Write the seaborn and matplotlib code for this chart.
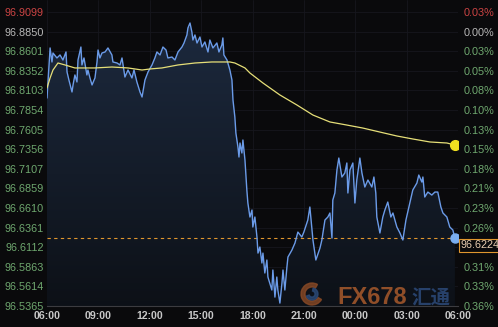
import numpy as np
import pandas as pd
import matplotlib
matplotlib.use("Agg")
import matplotlib.pyplot as plt
import matplotlib.transforms as mtrans
from matplotlib.patches import Wedge
import seaborn as sns

# ---- data (hours since 06:00) ----
hours = [0.00, 0.18, 0.29, 0.35, 0.58, 0.76, 0.93, 1.11, 1.17, 1.28, 1.46, 1.52, 1.63, 1.75, 1.81,
         1.98, 2.04, 2.16, 2.33, 2.39, 2.51, 2.63, 2.80, 2.92, 2.98, 3.09, 3.21, 3.39, 3.56, 3.79,
         3.85, 4.09, 4.26, 4.38, 4.55, 4.73, 4.96, 5.08, 5.25, 5.43, 5.55, 5.72, 5.90, 6.13, 6.30,
         6.42, 6.60, 6.77, 6.95, 7.06, 7.30, 7.47, 7.65, 7.88, 8.00, 8.17, 8.23, 8.35, 8.46, 8.52,
         8.64, 8.76, 8.93, 9.05, 9.22, 9.40, 9.51, 9.69, 9.92, 10.04, 10.21, 10.27, 10.33, 10.51,
         10.68, 10.80, 10.86, 10.97, 11.03, 11.15, 11.21, 11.27, 11.38, 11.44, 11.56, 11.67, 11.73,
         11.85, 11.97, 12.02, 12.14, 12.26, 12.32, 12.43, 12.55, 12.61, 12.72, 12.84, 12.90, 13.13,
         13.19, 13.31, 13.42, 13.48, 13.60, 13.72, 13.78, 13.89, 14.01, 14.07, 14.30, 14.48, 14.65,
         14.88, 15.00, 15.23, 15.35, 15.53, 15.70, 15.94, 16.05, 16.23, 16.40, 16.52, 16.64, 16.69,
         16.81, 16.93, 17.04, 17.22, 17.39, 17.51, 17.57, 17.69, 17.86, 17.98, 18.09, 18.27, 18.39,
         18.56, 18.74, 18.97, 19.09, 19.20, 19.26, 19.44, 19.61, 19.73, 19.90, 20.08, 20.20, 20.43,
         20.61, 20.78, 20.96, 21.19, 21.36, 21.60, 21.71, 21.89, 21.95, 22.06, 22.24, 22.47, 22.65,
         22.82, 23.00, 23.12, 23.35, 23.52, 23.70, 23.82]
price = [96.8006, 96.8642, 96.8464, 96.8578, 96.8515, 96.8553, 96.8489, 96.8591, 96.8337, 96.8235,
         96.8083, 96.8172, 96.8299, 96.8210, 96.8489, 96.8654, 96.8426, 96.8515, 96.8299, 96.8362,
         96.8261, 96.8172, 96.8261, 96.8464, 96.8616, 96.8515, 96.8578, 96.8591, 96.8642, 96.8553,
         96.8464, 96.8451, 96.8426, 96.8515, 96.8273, 96.8362, 96.8261, 96.8362, 96.8210, 96.8083,
         96.8019, 96.8235, 96.8337, 96.8426, 96.8515, 96.8591, 96.8553, 96.8654, 96.8616, 96.8515,
         96.8527, 96.8489, 96.8591, 96.8654, 96.8705, 96.8807, 96.8896, 96.8959, 96.8845, 96.8743,
         96.8807, 96.8705, 96.8781, 96.8654, 96.8718, 96.8591, 96.8743, 96.8642, 96.8705, 96.8591,
         96.8680, 96.8769, 96.8553, 96.8489, 96.8362, 96.8235, 96.7981, 96.7765, 96.7562, 96.7384,
         96.7257, 96.7435, 96.7308, 96.7473, 96.7219, 96.6838, 96.6673, 96.6495, 96.6584, 96.6368,
         96.6495, 96.6241, 96.6037, 96.6114, 96.5911, 96.6037, 96.5784, 96.5949, 96.5733, 96.5568,
         96.5822, 96.5478, 96.5733, 96.5568, 96.5402, 96.5657, 96.5822, 96.5568, 96.5860, 96.5987,
         96.6075, 96.6165, 96.6304, 96.6241, 96.6304, 96.6457, 96.6622, 96.6203, 96.5949, 96.6101,
         96.6203, 96.6457, 96.6495, 96.6546, 96.6228, 96.6711, 96.6800, 96.7092, 96.7244, 96.7003,
         96.7054, 96.7181, 96.6800, 96.7092, 96.7181, 96.6673, 96.6965, 96.7244, 96.7054, 96.6876,
         96.6965, 96.6876, 96.7003, 96.6800, 96.6495, 96.6292, 96.6495, 96.6584, 96.6685, 96.6495,
         96.6546, 96.6368, 96.6292, 96.6203, 96.6457, 96.6673, 96.6838, 96.6927, 96.7028, 96.6939,
         96.7003, 96.6749, 96.6812, 96.6774, 96.6812, 96.6812, 96.6622, 96.6546, 96.6495, 96.6368,
         96.6330, 96.6224]

ma_hours = [0.00, 0.18, 0.35, 0.64, 1.05, 1.63, 2.80, 3.79, 4.73, 5.55, 6.01, 6.71, 7.65, 8.64,
            9.63, 10.39, 10.68, 10.97, 11.56, 11.85, 12.61, 13.60, 14.59, 15.53, 16.52, 17.51,
            18.44, 19.44, 20.43, 21.36, 22.36, 23.35, 23.82]
ma_price = [96.8134, 96.8261, 96.8362, 96.8451, 96.8426, 96.8388, 96.8388, 96.8400, 96.8388,
            96.8362, 96.8375, 96.8388, 96.8426, 96.8451, 96.8464, 96.8464, 96.8464, 96.8451,
            96.8388, 96.8324, 96.8197, 96.8045, 96.7918, 96.7790, 96.7702, 96.7663, 96.7625,
            96.7574, 96.7524, 96.7486, 96.7448, 96.7435, 96.7409]

last_price = 96.6224
left_ticks = [96.9099, 96.8850, 96.8601, 96.8352, 96.8103, 96.7854, 96.7605, 96.7356,
              96.7107, 96.6859, 96.6610, 96.6361, 96.6112, 96.5863, 96.5614, 96.5365]
right_labels = ["0.03%", "0.00%", "0.03%", "0.05%", "0.08%", "0.10%", "0.13%", "0.15%",
                "0.18%", "0.21%", "0.23%", "0.26%", "", "0.31%", "0.33%", "0.36%"]
xtick_hours = [0, 3, 6, 9, 12, 15, 18, 21, 24]
xtick_labels = ["06:00", "09:00", "12:00", "15:00", "18:00", "21:00", "00:00", "03:00", "06:00"]

# ---- style ----
sns.set_theme(style="dark")
plt.rcParams["font.family"] = ["Liberation Sans", "DejaVu Sans"]
BG = "#0a0a0c"
RED, GREY, GREEN = "#cc4444", "#b8b8b8", "#6fa86f"

fig = plt.figure(figsize=(4.98, 3.27), dpi=100, facecolor=BG)
ax = fig.add_axes([47 / 498, 21 / 327, 411 / 498, 306 / 327])
ax.set_facecolor(BG)
ymin, ymax = 96.5365, 96.9251
ax.set_xlim(0, 24)
ax.set_ylim(ymin, ymax)

df = pd.DataFrame({"t": hours, "p": price})
ma = pd.DataFrame({"t": ma_hours, "p": ma_price})

# gradient area under the price line
poly = ax.fill_between(df["t"], df["p"], ymin, color="none", lw=0)
g = np.linspace(0, 1, 256)[:, None, None]
top = np.array([0.11, 0.16, 0.24])
bot = np.array([0.05, 0.065, 0.09])
img = top * (1 - g) + bot * g
im = ax.imshow(img, extent=[0, 24, ymin, 96.89], aspect="auto", origin="upper", zorder=1)
im.set_clip_path(poly.get_paths()[0], transform=ax.transData)

ax.grid(True, color="#16171d", lw=0.6)
ax.set_axisbelow(True)

sns.lineplot(data=df, x="t", y="p", ax=ax, color="#6b9be8", lw=1.0, estimator=None,
             sort=False, zorder=3)
sns.lineplot(data=ma, x="t", y="p", ax=ax, color="#e6df78", lw=0.9, estimator=None,
             sort=False, zorder=4)
ax.axhline(last_price, color="#e0962e", ls=(0, (3, 3)), lw=0.8, zorder=2)
ax.plot([ma_hours[-1]], [ma_price[-1]], "o", color="#f0e020", ms=7, zorder=5)
ax.plot([hours[-1]], [price[-1]], "o", color="#7aaef0", ms=6.5, zorder=5)

ax.set_xlabel("")
ax.set_ylabel("")
ax.set_xticks(xtick_hours)
ax.set_xticklabels(xtick_labels, color="#c8c8c8", fontsize=7.6, fontweight="bold")
ax.set_yticks(left_ticks)
ax.set_yticklabels([f"{v:.4f}" for v in left_ticks], fontsize=7.8)
for i, lab in enumerate(ax.get_yticklabels()):
    lab.set_color(RED if i == 0 else GREY if i == 1 else GREEN)
ax.tick_params(axis="both", length=0)
ax.tick_params(axis="y", pad=2.5)
ax.tick_params(axis="x", pad=3.5)
for s in ["top", "left", "right"]:
    ax.spines[s].set_visible(False)
ax.spines["bottom"].set_color("#3c3c40")
ax.spines["bottom"].set_linewidth(0.8)

ax2 = ax.twinx()
ax2.set_ylim(ymin, ymax)
ax2.set_yticks(left_ticks)
ax2.set_yticklabels(right_labels, fontsize=7.8)
for i, lab in enumerate(ax2.get_yticklabels()):
    lab.set_color(RED if i == 0 else GREY if i == 1 else GREEN)
ax2.tick_params(axis="y", length=0, pad=4)
ax2.grid(False)
for s in ax2.spines.values():
    s.set_visible(False)

# last price box
trans = mtrans.blended_transform_factory(ax.transAxes, ax.transData)
ax.annotate(f"{last_price:.4f}", xy=(1, last_price), xycoords=trans, xytext=(1.8, -1.5),
            textcoords="offset points", ha="left", va="top", fontsize=7.8, color="#e8cdb0",
            bbox=dict(boxstyle="square,pad=0.15", fc=BG, ec="#e0962e", lw=0.8),
            annotation_clip=False, zorder=6)

# watermark
ident = mtrans.IdentityTransform()
fig.add_artist(Wedge((312, 327 - 294), 11, 60, 330, width=4, color="#8a4a26", alpha=0.8,
                     transform=ident))
fig.add_artist(Wedge((312, 327 - 294), 6, 200, 80, width=3, color="#2b4a78", alpha=0.8,
                     transform=ident))
fig.text(337 / 498, 23 / 327, "FX678", color="#a85a2c", fontsize=17, fontweight="bold",
         ha="left", va="baseline", alpha=0.85)
fig.text(411 / 498, 23 / 327, "汇通", color="#2c4a7a", fontsize=14, fontweight="bold",
         ha="left", va="baseline", alpha=0.85,
         family=["Noto Sans CJK SC", "DejaVu Sans"])

fig.savefig("out.png", dpi=100, facecolor=BG)
